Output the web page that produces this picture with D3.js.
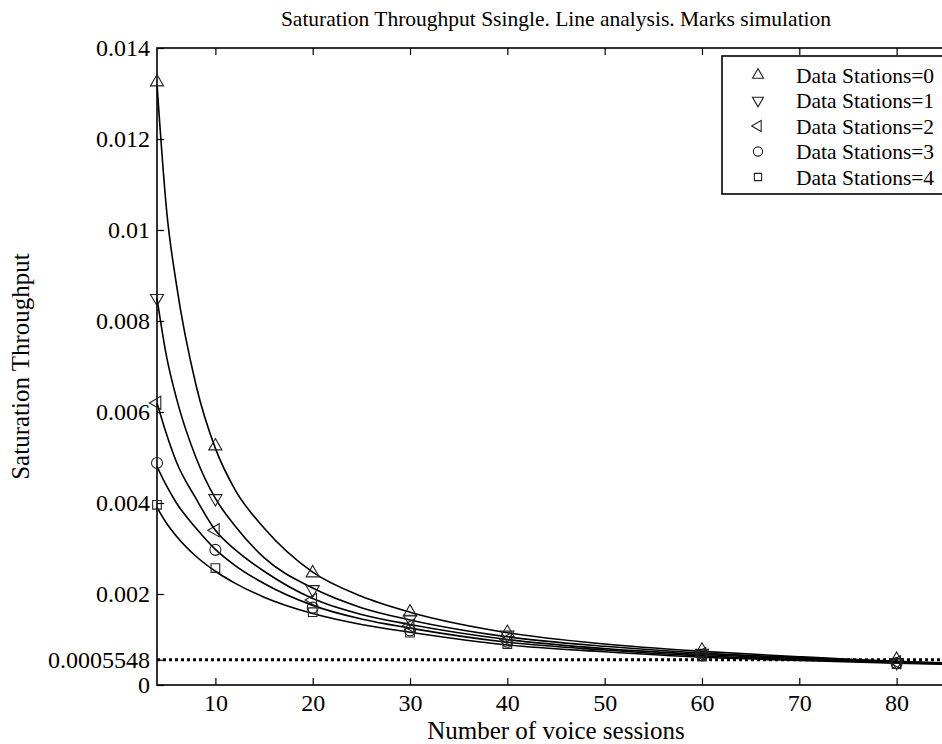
<!DOCTYPE html>
<html>
<head>
    <meta charset="utf-8" />
    <title>Saturation Throughput</title>
    <script src="https://cdn.jsdelivr.net/npm/d3@7"></script>
    <style>
        body { margin: 0; background: #fff; }
        text { font-family: "Liberation Serif", "DejaVu Serif", serif; fill: #000; }
    </style>
</head>
<body>
<script>
    // analysis curves (lines)
    var analysisX = [4, 5, 6, 8, 10, 12, 15, 20, 25, 30, 40, 50, 60, 70, 80, 86];
    var line0 = [0.0132, 0.0104, 0.0088, 0.0066, 0.0052, 0.0043, 0.00345, 0.00248, 0.00195, 0.0016, 0.00115, 0.0009, 0.00074, 0.00062, 0.00052, 0.00048];
    var line1 = [0.0085, 0.0072, 0.0063, 0.0050, 0.0041, 0.0035, 0.0028, 0.00213, 0.0017, 0.00143, 0.00106, 0.00085, 0.0007, 0.0006, 0.00051, 0.00047];
    var line2 = [0.0062, 0.0055, 0.0049, 0.0041, 0.0034, 0.00298, 0.0025, 0.0019, 0.00155, 0.00133, 0.001, 0.0008, 0.00067, 0.00058, 0.0005, 0.00047];
    var line3 = [0.0048, 0.00437, 0.0040, 0.00345, 0.00298, 0.00263, 0.00223, 0.00175, 0.00145, 0.00125, 0.00094, 0.00077, 0.00064, 0.00056, 0.00049, 0.00046];
    var line4 = [0.0039, 0.00355, 0.00327, 0.00283, 0.0025, 0.00224, 0.00193, 0.00157, 0.00133, 0.00116, 0.00088, 0.00073, 0.00061, 0.00054, 0.00048, 0.00045];

    // simulation marks
    var simX = [4, 10, 20, 30, 40, 60, 80];
    var sim0 = [0.01325, 0.00525, 0.00246, 0.0016, 0.00115, 0.00076, 0.00056];
    var sim1 = [0.0085, 0.0041, 0.0021, 0.00145, 0.0011, 0.0007, 0.0005];
    var sim2 = [0.0062, 0.0034, 0.00187, 0.0013, 0.001, 0.00068, 0.0005];
    var sim3 = [0.00488, 0.00297, 0.0017, 0.0012, 0.00095, 0.00065, 0.00048];
    var sim4 = [0.00396, 0.00257, 0.0016, 0.00115, 0.0009, 0.00063, 0.00046];

    var seriesNames = ["Data Stations=0", "Data Stations=1", "Data Stations=2", "Data Stations=3", "Data Stations=4"];
    var xTicks = [10, 20, 30, 40, 50, 60, 70, 80];
    var yTicks = [0, 0.0005548, 0.002, 0.004, 0.006, 0.008, 0.01, 0.012, 0.014];
    var yTickLabels = ["0", "0.0005548", "0.002", "0.004", "0.006", "0.008", "0.01", "0.012", "0.014"];
    var refLevel = 0.0005548;

    var lines = [line0, line1, line2, line3, line4];
    var sims = [sim0, sim1, sim2, sim3, sim4];

    var width = 942, height = 744;
    var margin = {top: 48, left: 157, bottom: 59};
    var plotW = 798, plotH = height - margin.top - margin.bottom;

    var svg = d3.select("body").append("svg")
        .attr("width", width)
        .attr("height", height);

    var x = d3.scaleLinear().domain([4, 86]).range([0, plotW]);
    var y = d3.scaleLinear().domain([0, 0.014]).range([plotH, 0]);

    var g = svg.append("g")
        .attr("transform", `translate(${margin.left},${margin.top})`);

    // frame
    g.append("rect")
        .attr("width", plotW).attr("height", plotH)
        .attr("fill", "none").attr("stroke", "#000").attr("stroke-width", 1.6);

    // axes (ticks pointing inwards)
    var xAxis = g.append("g")
        .attr("transform", `translate(0,${plotH})`)
        .call(d3.axisBottom(x).tickValues(xTicks).tickSizeInner(-7).tickSizeOuter(0).tickPadding(9));
    var xTop = g.append("g")
        .call(d3.axisTop(x).tickValues(xTicks).tickSizeInner(-7).tickSizeOuter(0).tickFormat(""));
    var yAxis = g.append("g")
        .call(d3.axisLeft(y).tickValues(yTicks).tickSizeInner(-7).tickSizeOuter(0).tickPadding(7)
            .tickFormat((d, i) => yTickLabels[i]));

    [xAxis, xTop, yAxis].forEach(function (a) {
        a.select(".domain").remove();
        a.selectAll(".tick line").attr("stroke", "#000").attr("stroke-width", 1.2);
        a.selectAll("text").attr("font-size", 24).attr("font-family", "Liberation Serif").attr("fill", "#000");
    });

    // dotted reference line
    g.append("line")
        .attr("x1", 0).attr("x2", plotW)
        .attr("y1", y(refLevel)).attr("y2", y(refLevel))
        .attr("stroke", "#000").attr("stroke-width", 3)
        .attr("stroke-dasharray", "3,3");

    // analysis lines
    var lineGen = d3.line()
        .x((d, i) => x(analysisX[i]))
        .y(d => y(d))
        .curve(d3.curveMonotoneX);

    g.selectAll("path.curve")
        .data(lines)
        .enter().append("path")
        .attr("class", "curve")
        .attr("d", lineGen)
        .attr("fill", "none")
        .attr("stroke", "#000")
        .attr("stroke-width", 1.6);

    // markers
    var symbolTypes = [d3.symbolTriangle, d3.symbolTriangle, d3.symbolTriangle, d3.symbolCircle, d3.symbolSquare];
    var symbolRot = [0, 180, -90, 0, 0];
    var symbolSize = [75, 75, 75, 95, 75];

    function markerPath(k, scale) {
        return d3.symbol().type(symbolTypes[k]).size(symbolSize[k] * scale)();
    }

    sims.forEach(function (vals, k) {
        g.selectAll("path.m" + k)
            .data(vals)
            .enter().append("path")
            .attr("class", "m" + k)
            .attr("d", markerPath(k, 1))
            .attr("transform", (d, i) => `translate(${x(simX[i])},${y(d)}) rotate(${symbolRot[k]})`)
            .attr("fill", "none")
            .attr("stroke", "#222")
            .attr("stroke-width", 1.1);
    });

    // legend
    var legend = svg.append("g").attr("transform", "translate(722,56)");
    legend.append("rect")
        .attr("width", 260).attr("height", 138)
        .attr("fill", "#fff").attr("stroke", "#000").attr("stroke-width", 1.6);

    var items = legend.selectAll("g.item")
        .data(seriesNames)
        .enter().append("g")
        .attr("class", "item")
        .attr("transform", (d, i) => `translate(0,${19 + i * 25.5})`);

    items.append("path")
        .attr("d", (d, i) => markerPath(i, 0.7))
        .attr("transform", (d, i) => `translate(36,0) rotate(${symbolRot[i]})`)
        .attr("fill", "none")
        .attr("stroke", "#222")
        .attr("stroke-width", 1.1);

    items.append("text")
        .attr("x", 74)
        .attr("dy", "0.35em")
        .attr("font-size", 21.5)
        .text(d => d);

    // titles
    svg.append("text")
        .attr("x", margin.left + plotW / 2)
        .attr("y", 26)
        .attr("text-anchor", "middle")
        .attr("font-size", 21.5)
        .text("Saturation Throughput Ssingle. Line analysis. Marks simulation");

    svg.append("text")
        .attr("x", margin.left + plotW / 2)
        .attr("y", 739)
        .attr("text-anchor", "middle")
        .attr("font-size", 25)
        .text("Number of voice sessions");

    svg.append("text")
        .attr("transform", `translate(29,${margin.top + plotH / 2}) rotate(-90)`)
        .attr("text-anchor", "middle")
        .attr("font-size", 25)
        .text("Saturation Throughput");
</script>
</body>
</html>
